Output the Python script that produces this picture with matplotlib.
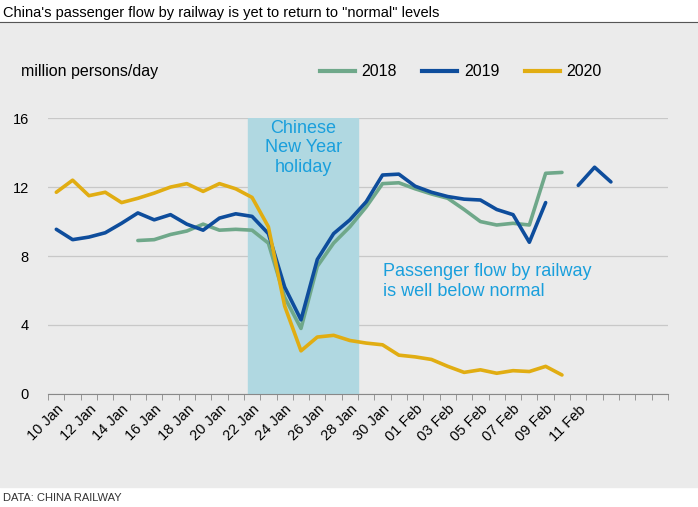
import matplotlib
matplotlib.use("Agg")
import matplotlib.pyplot as plt
import numpy as np
from matplotlib.patches import Rectangle
from matplotlib.lines import Line2D

plt.rcParams["font.family"] = ["Liberation Sans", "DejaVu Sans"]

tick_labels = ["10 Jan", "12 Jan", "14 Jan", "16 Jan", "18 Jan", "20 Jan", "22 Jan",
               "24 Jan", "26 Jan", "28 Jan", "30 Jan", "01 Feb", "03 Feb", "05 Feb",
               "07 Feb", "09 Feb", "11 Feb"]
n_days = 38

v2020 = [11.7, 12.4, 11.5, 11.7, 11.1, 11.35, 11.65, 12.0, 12.2, 11.75, 12.2, 11.9,
         11.4, 9.7, 5.1, 2.5, 3.3, 3.4, 3.1, 2.95, 2.85, 2.25, 2.15, 2.0, 1.6, 1.25,
         1.4, 1.2, 1.35, 1.3, 1.6, 1.1]
v2019 = [9.55, 8.95, 9.1, 9.35, 9.9, 10.5, 10.1, 10.4, 9.85, 9.5, 10.2, 10.45,
         10.3, 9.3, 6.2, 4.3, 7.8, 9.3, 10.1, 11.15, 12.7, 12.75, 12.05, 11.7, 11.45,
         11.3, 11.25, 10.7, 10.4, 8.8, 11.1, np.nan, 12.1, 13.15, 12.3]
v2018 = [np.nan] * 5 + [8.9, 8.95, 9.25, 9.45, 9.85, 9.5, 9.55, 9.5, 8.75, 5.6, 3.8,
                        7.4, 8.75, 9.7, 10.85, 12.2, 12.25, 11.9, 11.6, 11.35, 10.7,
                        10.0, 9.8, 9.9, 9.8, 12.8, 12.85]

c18, c19, c20 = "#6fa88a", "#0e4d9c", "#e1ad12"
bg = "#ebebeb"
txt_blue = "#1a9fdc"

fig = plt.figure(figsize=(6.98, 5.07), dpi=100)
fig.patches.append(Rectangle((0, 0.04), 1, 0.917, transform=fig.transFigure,
                             color=bg, zorder=-10))
fig.add_artist(Line2D([0, 1], [0.957, 0.957], color="#555555", lw=0.8))
fig.text(0.005, 0.975, "China's passenger flow by railway is yet to return to \"normal\" levels",
         fontsize=10.5, va="center")
fig.text(0.005, 0.018, "DATA: CHINA RAILWAY", fontsize=8, va="center", color="#333333")

ax = fig.add_axes([0.069, 0.223, 0.888, 0.544])
ax.set_facecolor(bg)
ax.set_xlim(0, n_days)
ax.set_ylim(0, 16)

ax.axvspan(12.25, 19, color="#b0d8e1", zorder=1)
ax.text(15.65, 15.9, "Chinese\nNew Year\nholiday", ha="center", va="top",
        color=txt_blue, fontsize=13, linespacing=1.2)
ax.text(20.5, 7.6, "Passenger flow by railway\nis well below normal", ha="left", va="top",
        color=txt_blue, fontsize=13, linespacing=1.2)

x = np.arange(n_days) + 0.5
ax.plot(x[:len(v2018)], v2018, color=c18, lw=2.6, zorder=3, solid_capstyle="round")
ax.plot(x[:len(v2019)], v2019, color=c19, lw=2.6, zorder=4, solid_capstyle="round")
ax.plot(x[:len(v2020)], v2020, color=c20, lw=2.6, zorder=5, solid_capstyle="round")

ax.set_yticks([0, 4, 8, 12, 16])
ax.tick_params(axis="y", length=0, labelsize=10.5, pad=14)
ax.grid(axis="y", color="#c8c8c8", lw=0.9)
ax.set_axisbelow(True)
ax.set_xticks(x[::2][:len(tick_labels)])
ax.set_xticklabels(tick_labels, rotation=45, ha="right", rotation_mode="anchor", fontsize=10.5)
ax.set_xticks(np.arange(n_days + 1), minor=True)
ax.tick_params(axis="x", which="major", length=0, pad=6)
ax.tick_params(axis="x", which="minor", length=4, color="#888888")
for s in ["top", "right", "left"]:
    ax.spines[s].set_visible(False)
ax.spines["bottom"].set_color("#888888")

fig.text(0.03, 0.858, "million persons/day", fontsize=11.5, va="center")
handles = [Line2D([], [], color=c, lw=3) for c in (c18, c19, c20)]
fig.legend(handles, ["2018", "2019", "2020"], loc="center", bbox_to_anchor=(0.66, 0.858),
           ncol=3, frameon=False, fontsize=11.5, handlelength=2.2, columnspacing=1.6,
           handletextpad=0.4)

fig.savefig("out.png", dpi=100)
